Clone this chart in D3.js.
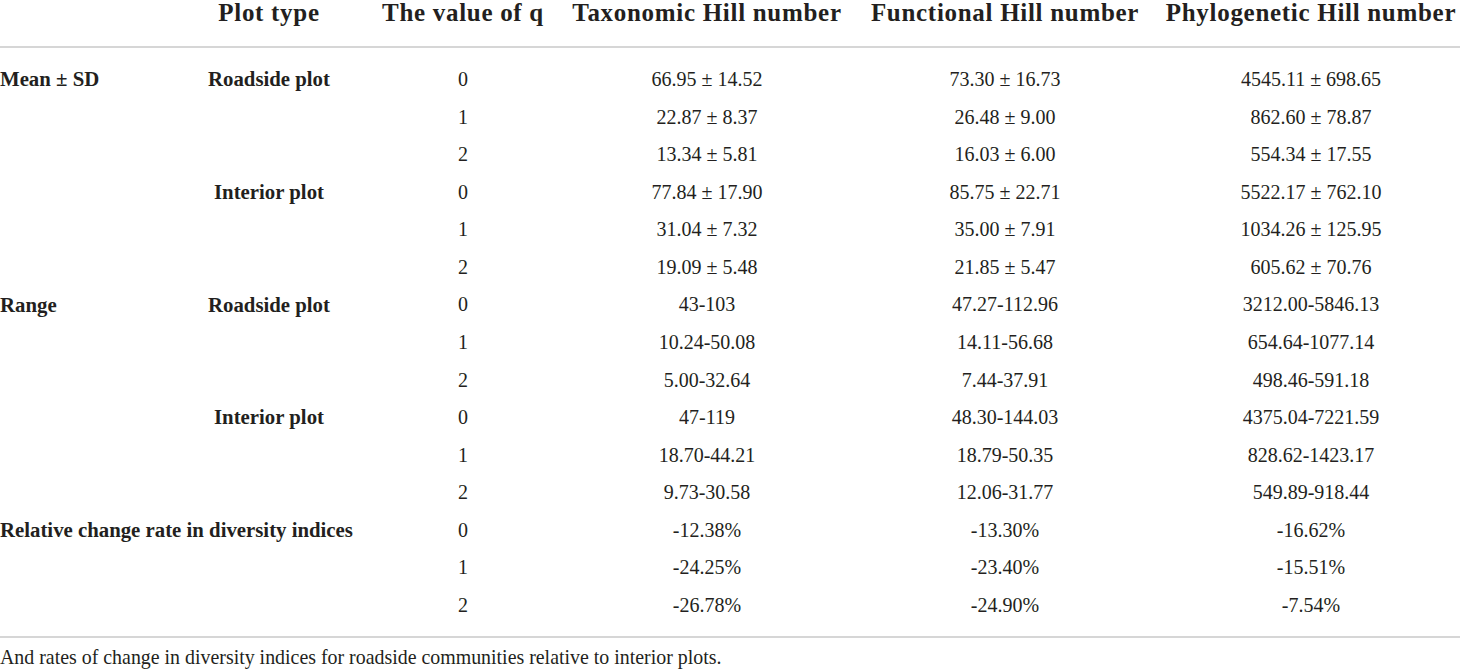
<!DOCTYPE html>
<html>
<head>
<meta charset="utf-8">
<script src="https://cdn.jsdelivr.net/npm/d3@7"></script>
<style>
  html, body { margin: 0; padding: 0; background: #fff; }
  svg { display: block; }
</style>
</head>
<body>
<svg id="table" width="1460" height="670"></svg>
<script>
// ---- data ----
const headers = ["Plot type", "The value of q", "Taxonomic Hill number", "Functional Hill number", "Phylogenetic Hill number"];

const groups = ["Mean ± SD", "", "", "", "", "",
                "Range", "", "", "", "", "",
                "Relative change rate in diversity indices", "", ""];

const plotTypes = ["Roadside plot", "", "", "Interior plot", "", "",
                   "Roadside plot", "", "", "Interior plot", "", "",
                   "", "", ""];

const qValues = ["0", "1", "2", "0", "1", "2", "0", "1", "2", "0", "1", "2", "0", "1", "2"];

const taxonomic = ["66.95 ± 14.52", "22.87 ± 8.37", "13.34 ± 5.81",
                   "77.84 ± 17.90", "31.04 ± 7.32", "19.09 ± 5.48",
                   "43-103", "10.24-50.08", "5.00-32.64",
                   "47-119", "18.70-44.21", "9.73-30.58",
                   "-12.38%", "-24.25%", "-26.78%"];

const functional = ["73.30 ± 16.73", "26.48 ± 9.00", "16.03 ± 6.00",
                    "85.75 ± 22.71", "35.00 ± 7.91", "21.85 ± 5.47",
                    "47.27-112.96", "14.11-56.68", "7.44-37.91",
                    "48.30-144.03", "18.79-50.35", "12.06-31.77",
                    "-13.30%", "-23.40%", "-24.90%"];

const phylogenetic = ["4545.11 ± 698.65", "862.60 ± 78.87", "554.34 ± 17.55",
                      "5522.17 ± 762.10", "1034.26 ± 125.95", "605.62 ± 70.76",
                      "3212.00-5846.13", "654.64-1077.14", "498.46-591.18",
                      "4375.04-7221.59", "828.62-1423.17", "549.89-918.44",
                      "-16.62%", "-15.51%", "-7.54%"];

const footnote = "And rates of change in diversity indices for roadside communities relative to interior plots.";

// ---- layout ----
const width = 1460, height = 670;
const font = "'Liberation Serif', 'Times New Roman', serif";
const textColor = "#231f20";
const ruleColor = "#c9c9c9";

const svg = d3.select("#table");

// column centres (plot type, q, taxonomic, functional, phylogenetic)
const colX = d3.scaleOrdinal()
    .domain(headers)
    .range([269, 463, 707, 1005, 1311]);

// row centres
const rowY = d3.scaleLinear()
    .domain([0, qValues.length - 1])
    .range([79, 605]);

// horizontal rules
svg.selectAll("line.rule")
    .data([47, 637])
    .enter()
    .append("line")
      .attr("class", "rule")
      .attr("x1", 0)
      .attr("x2", width)
      .attr("y1", (d) => d)
      .attr("y2", (d) => d)
      .style("stroke", ruleColor)
      .style("stroke-width", 1.5);

// header
svg.selectAll("text.header")
    .data(headers)
    .enter()
    .append("text")
      .attr("class", "header")
      .attr("x", (d) => colX(d))
      .attr("y", 21)
      .attr("text-anchor", "middle")
      .style("font-family", font)
      .style("font-size", "25px")
      .style("font-weight", "700")
      .style("letter-spacing", "0.7px")
      .style("fill", textColor)
      .text((d) => d);

// row labels (bold)
const appendLabels = (cls, values, x, anchor) => {
  svg.selectAll("text." + cls)
      .data(values.map((v, i) => ({ v, i })).filter((d) => d.v !== ""))
      .enter()
      .append("text")
        .attr("class", cls)
        .attr("x", x)
        .attr("y", (d) => rowY(d.i))
        .attr("dy", "0.35em")
        .attr("text-anchor", anchor)
        .style("font-family", font)
        .style("font-size", "20.8px")
        .style("font-weight", "700")
        .style("fill", textColor)
        .text((d) => d.v);
};

appendLabels("group", groups, 0, "start");
appendLabels("ptype", plotTypes, colX(headers[0]), "middle");

// value cells
const columns = [
  { key: headers[1], values: qValues },
  { key: headers[2], values: taxonomic },
  { key: headers[3], values: functional },
  { key: headers[4], values: phylogenetic }
];

columns.forEach((col) => {
  svg.selectAll(null)
      .data(col.values)
      .enter()
      .append("text")
        .attr("x", colX(col.key))
        .attr("y", (d, i) => rowY(i))
        .attr("dy", "0.35em")
        .attr("text-anchor", "middle")
        .style("font-family", font)
        .style("font-size", "20px")
        .style("fill", textColor)
        .text((d) => d);
});

// footnote
svg.append("text")
    .attr("x", 0)
    .attr("y", 657)
    .attr("dy", "0.35em")
    .style("font-family", font)
    .style("font-size", "19.9px")
    .style("fill", textColor)
    .text(footnote);
</script>
</body>
</html>
